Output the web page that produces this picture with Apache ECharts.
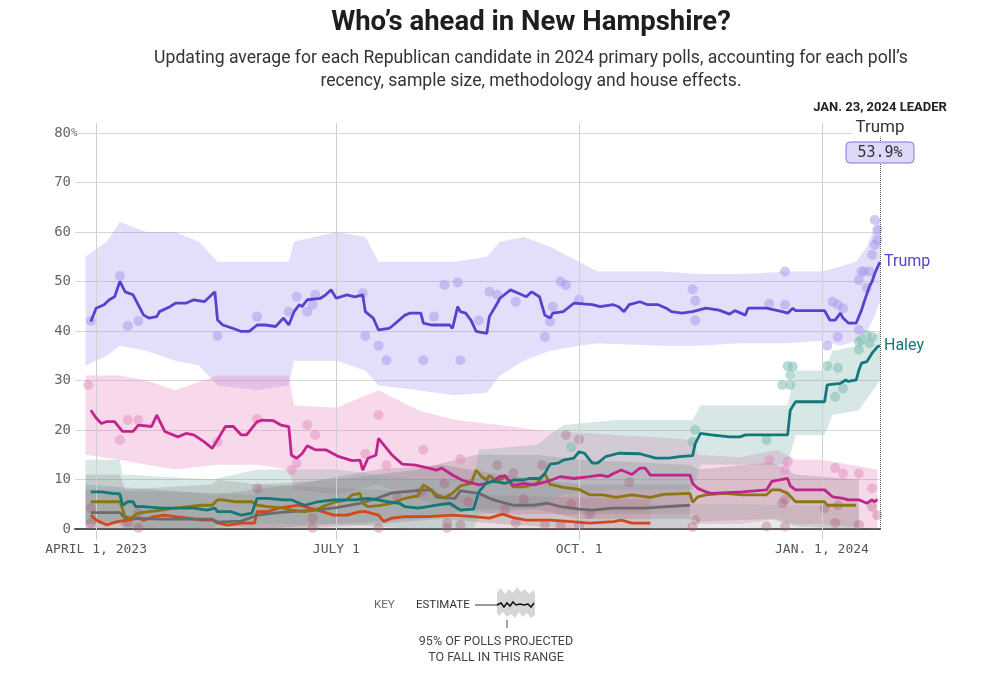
<!DOCTYPE html>
<html><head><meta charset="utf-8">
<script src="https://cdn.jsdelivr.net/npm/echarts@6/dist/echarts.min.js"></script>
<style>html,body{margin:0;padding:0;background:#fff}#c{width:992px;height:675px}</style>
</head><body><div id="c"></div>
<script>
// ---------- DATA ----------
const titleText = 'Who\u2019s ahead in New Hampshire?';
const subtitleLines = ['Updating average for each Republican candidate in 2024 primary polls, accounting for each poll\u2019s',
  'recency, sample size, methodology and house effects.'];
const leaderDate = '2024-01-23';
const leaderHeader = 'JAN. 23, 2024 LEADER';
const leaderName = 'Trump';
const leaderValue = 53.9;

const xTickDates = ['2023-04-01','2023-07-01','2023-10-01','2024-01-01'];
const xTickLabels = ['APRIL 1, 2023','JULY 1','OCT. 1','JAN. 1, 2024'];
const xMinDate = '2023-03-24';
const yTicks = [0,10,20,30,40,50,60,70,80];
const yTopTick = 80;

const trump = [['2023-03-30',41.9],['2023-04-01',44.6],['2023-04-04',45.3],['2023-04-06',46.3],['2023-04-08',46.9],['2023-04-10',50.0],['2023-04-12',47.9],['2023-04-15',47.3],['2023-04-19',43.2],['2023-04-21',42.6],['2023-04-24',42.9],['2023-04-25',43.9],['2023-04-29',44.9],['2023-05-01',45.6],['2023-05-05',45.6],['2023-05-08',46.3],['2023-05-12',45.9],['2023-05-16',47.9],['2023-05-17',42.2],['2023-05-19',41.2],['2023-05-23',40.5],['2023-05-26',39.9],['2023-05-29',39.9],['2023-06-01',41.2],['2023-06-04',41.2],['2023-06-08',40.9],['2023-06-11',42.6],['2023-06-13',41.2],['2023-06-15',43.9],['2023-06-17',45.3],['2023-06-18',44.9],['2023-06-20',46.3],['2023-06-25',46.6],['2023-06-27',47.3],['2023-06-29',48.3],['2023-07-01',46.6],['2023-07-05',47.3],['2023-07-08',46.9],['2023-07-11',47.3],['2023-07-12',43.9],['2023-07-15',42.6],['2023-07-17',40.2],['2023-07-21',40.5],['2023-07-22',40.9],['2023-07-27',43.2],['2023-07-29',43.6],['2023-08-02',43.6],['2023-08-03',41.6],['2023-08-06',41.2],['2023-08-13',41.2],['2023-08-14',40.5],['2023-08-16',44.9],['2023-08-17',43.9],['2023-08-19',43.6],['2023-08-21',42.2],['2023-08-23',39.9],['2023-08-27',39.5],['2023-08-28',42.9],['2023-08-31',45.6],['2023-09-01',46.6],['2023-09-05',48.3],['2023-09-08',47.6],['2023-09-11',46.9],['2023-09-13',47.9],['2023-09-16',46.9],['2023-09-18',43.2],['2023-09-20',42.6],['2023-09-21',43.6],['2023-09-25',43.9],['2023-09-29',45.6],['2023-10-06',45.3],['2023-10-09',44.9],['2023-10-14',45.3],['2023-10-16',44.9],['2023-10-18',43.9],['2023-10-20',45.3],['2023-10-24',45.9],['2023-10-27',45.3],['2023-10-31',45.3],['2023-11-03',44.6],['2023-11-05',43.9],['2023-11-09',43.6],['2023-11-13',43.9],['2023-11-18',44.6],['2023-11-23',44.2],['2023-11-27',43.4],['2023-11-29',44.1],['2023-12-03',43.2],['2023-12-04',44.6],['2023-12-11',44.6],['2023-12-17',43.9],['2023-12-19',43.6],['2023-12-21',44.6],['2023-12-22',44.1],['2024-01-02',44.1],['2024-01-04',42.2],['2024-01-06',42.2],['2024-01-08',43.6],['2024-01-09',42.6],['2024-01-11',41.6],['2024-01-14',41.6],['2024-01-16',44.2],['2024-01-17',45.9],['2024-01-19',49.0],['2024-01-20',50.0],['2024-01-21',51.6],['2024-01-22',52.8],['2024-01-23',53.9]];

const haley = [['2023-03-30',7.5],['2023-04-03',7.5],['2023-04-07',7.2],['2023-04-10',7.1],['2023-04-11',4.8],['2023-04-13',5.5],['2023-04-15',5.5],['2023-04-16',4.5],['2023-04-19',4.5],['2023-04-26',4.2],['2023-05-08',4.2],['2023-05-13',3.8],['2023-05-16',4.2],['2023-05-17',3.5],['2023-05-22',3.5],['2023-05-26',2.8],['2023-05-30',3.2],['2023-06-01',6.2],['2023-06-05',6.2],['2023-06-11',5.9],['2023-06-14',5.9],['2023-06-17',5.2],['2023-06-19',4.8],['2023-06-22',5.2],['2023-06-24',5.5],['2023-06-30',5.9],['2023-07-08',5.9],['2023-07-13',6.2],['2023-07-21',5.5],['2023-07-25',5.2],['2023-07-27',4.5],['2023-08-01',4.2],['2023-08-08',4.8],['2023-08-13',5.2],['2023-08-15',4.5],['2023-08-17',3.8],['2023-08-22',4.0],['2023-08-24',7.5],['2023-08-27',9.4],['2023-08-30',9.6],['2023-09-03',9.2],['2023-09-06',9.9],['2023-09-10',9.9],['2023-09-12',10.2],['2023-09-16',10.2],['2023-09-18',11.2],['2023-09-20',13.1],['2023-09-23',13.3],['2023-09-25',13.9],['2023-09-29',14.3],['2023-10-01',15.6],['2023-10-03',15.3],['2023-10-06',13.3],['2023-10-08',13.3],['2023-10-11',14.6],['2023-10-16',15.3],['2023-10-24',15.2],['2023-10-30',14.3],['2023-11-04',14.3],['2023-11-08',14.6],['2023-11-13',14.8],['2023-11-14',17.3],['2023-11-16',19.3],['2023-11-20',19.0],['2023-11-27',18.6],['2023-12-01',18.6],['2023-12-03',19.0],['2023-12-19',19.0],['2023-12-20',24.0],['2023-12-22',25.7],['2024-01-02',25.7],['2024-01-03',29.1],['2024-01-08',29.4],['2024-01-10',30.1],['2024-01-11',29.8],['2024-01-14',30.1],['2024-01-15',32.1],['2024-01-16',33.5],['2024-01-18',33.8],['2024-01-20',35.5],['2024-01-22',36.8],['2024-01-23',37.0]];

const desantis = [['2023-03-30',24.0],['2023-04-01',22.4],['2023-04-03',21.3],['2023-04-05',21.7],['2023-04-08',21.7],['2023-04-11',19.7],['2023-04-15',19.7],['2023-04-17',21.0],['2023-04-22',20.7],['2023-04-24',23.0],['2023-04-27',19.7],['2023-05-02',18.6],['2023-05-05',19.3],['2023-05-08',19.0],['2023-05-12',17.6],['2023-05-15',16.3],['2023-05-17',18.0],['2023-05-20',20.7],['2023-05-23',20.7],['2023-05-26',19.0],['2023-05-28',19.0],['2023-06-01',21.7],['2023-06-03',22.0],['2023-06-07',21.9],['2023-06-10',21.0],['2023-06-13',20.7],['2023-06-14',14.9],['2023-06-16',14.3],['2023-06-18',15.2],['2023-06-20',16.8],['2023-06-23',16.0],['2023-06-27',16.0],['2023-07-02',14.6],['2023-07-07',13.8],['2023-07-10',13.9],['2023-07-11',11.9],['2023-07-13',14.3],['2023-07-16',14.9],['2023-07-17',18.3],['2023-07-19',17.0],['2023-07-22',15.0],['2023-07-26',13.1],['2023-07-31',12.9],['2023-08-05',12.3],['2023-08-08',11.9],['2023-08-10',12.3],['2023-08-14',10.9],['2023-08-18',9.8],['2023-08-22',9.2],['2023-08-24',8.9],['2023-08-27',9.2],['2023-08-30',9.9],['2023-09-01',10.6],['2023-09-03',10.8],['2023-09-06',8.8],['2023-09-10',9.2],['2023-09-14',8.9],['2023-09-19',9.6],['2023-09-24',10.6],['2023-09-29',10.2],['2023-10-05',10.6],['2023-10-09',10.9],['2023-10-12',10.6],['2023-10-14',11.2],['2023-10-17',11.9],['2023-10-21',11.0],['2023-10-24',12.3],['2023-10-26',12.3],['2023-10-28',10.9],['2023-11-03',10.9],['2023-11-12',10.9],['2023-11-13',9.2],['2023-11-15',8.2],['2023-11-18',7.5],['2023-11-20',7.2],['2023-12-02',7.5],['2023-12-11',7.9],['2023-12-13',9.6],['2023-12-16',9.9],['2023-12-19',10.2],['2023-12-20',8.7],['2023-12-22',7.9],['2024-01-02',7.9],['2024-01-05',6.5],['2024-01-09',6.2],['2024-01-11',5.9],['2024-01-15',5.9],['2024-01-18',5.2],['2024-01-20',5.9],['2024-01-21',5.5],['2024-01-22',6.0]];

const ramaswamy = [['2023-03-30',5.5],['2023-04-05',5.5],['2023-04-10',5.5],['2023-04-12',2.5],['2023-04-14',2.2],['2023-04-17',3.2],['2023-04-21',3.5],['2023-04-26',3.8],['2023-05-01',4.2],['2023-05-06',4.5],['2023-05-11',4.8],['2023-05-15',4.8],['2023-05-17',5.9],['2023-05-19',5.9],['2023-05-24',5.5],['2023-05-30',5.5],['2023-06-01',4.8],['2023-06-05',4.5],['2023-06-11',4.2],['2023-06-14',3.8],['2023-06-19',3.5],['2023-06-23',3.8],['2023-06-27',4.8],['2023-07-01',5.5],['2023-07-05',5.9],['2023-07-07',6.9],['2023-07-10',7.2],['2023-07-11',5.2],['2023-07-13',4.5],['2023-07-17',4.7],['2023-07-22',5.2],['2023-07-27',6.2],['2023-08-01',6.7],['2023-08-03',8.9],['2023-08-06',7.9],['2023-08-08',6.9],['2023-08-11',6.3],['2023-08-14',7.2],['2023-08-17',8.7],['2023-08-21',9.2],['2023-08-23',11.9],['2023-08-25',10.6],['2023-08-27',9.9],['2023-08-28',10.8],['2023-08-31',9.6],['2023-09-03',10.6],['2023-09-06',8.5],['2023-09-10',8.5],['2023-09-15',9.2],['2023-09-18',11.2],['2023-09-20',9.0],['2023-09-25',8.4],['2023-10-01',8.0],['2023-10-05',6.9],['2023-10-10',6.9],['2023-10-15',6.4],['2023-10-21',6.9],['2023-10-28',6.4],['2023-11-02',7.0],['2023-11-12',7.2],['2023-11-13',5.4],['2023-11-15',6.5],['2023-11-18',6.9],['2023-11-25',7.2],['2023-12-02',6.9],['2023-12-11',6.9],['2023-12-13',7.9],['2023-12-16',7.9],['2023-12-19',7.2],['2023-12-22',5.5],['2024-01-02',5.5],['2024-01-03',4.8],['2024-01-14',4.8]];

const scott = [['2023-03-30',3.3],['2023-04-10',3.3],['2023-04-12',2.2],['2023-04-26',2.0],['2023-05-15',2.0],['2023-05-17',1.4],['2023-05-26',1.6],['2023-06-01',2.8],['2023-06-11',3.4],['2023-06-23',3.8],['2023-07-01',4.3],['2023-07-10',5.2],['2023-07-17',6.3],['2023-07-22',7.3],['2023-08-01',7.8],['2023-08-06',7.9],['2023-08-08',6.4],['2023-08-15',6.2],['2023-08-17',7.7],['2023-08-24',7.2],['2023-08-28',6.2],['2023-09-01',5.5],['2023-09-06',4.8],['2023-09-14',4.8],['2023-09-19',5.2],['2023-09-24',4.5],['2023-10-01',4.0],['2023-10-06',3.8],['2023-10-14',4.2],['2023-10-26',4.2],['2023-11-03',4.5],['2023-11-12',4.8]];

const pence = [['2023-03-30',2.8],['2023-04-01',1.8],['2023-04-05',0.8],['2023-04-09',1.5],['2023-04-13',1.8],['2023-04-17',2.2],['2023-04-19',1.8],['2023-04-23',2.5],['2023-04-27',2.8],['2023-05-01',2.5],['2023-05-06',2.2],['2023-05-11',1.8],['2023-05-15',1.8],['2023-05-17',1.2],['2023-05-21',0.8],['2023-05-26',1.2],['2023-05-31',1.2],['2023-06-01',3.5],['2023-06-05',3.5],['2023-06-09',4.2],['2023-06-13',4.5],['2023-06-17',4.8],['2023-06-21',4.2],['2023-06-24',3.8],['2023-06-30',2.8],['2023-07-05',2.8],['2023-07-10',3.5],['2023-07-12',3.5],['2023-07-17',2.8],['2023-07-19',1.5],['2023-07-22',2.2],['2023-07-27',2.5],['2023-08-05',2.5],['2023-08-14',2.8],['2023-08-22',2.5],['2023-08-28',2.2],['2023-09-02',3.0],['2023-09-06',2.3],['2023-09-11',1.8],['2023-09-20',1.8],['2023-09-28',1.5],['2023-10-05',1.2],['2023-10-14',1.5],['2023-10-17',1.8],['2023-10-21',1.2],['2023-10-28',1.2]];

// 95% ranges: [date, low, high]
const trumpBand = [['2023-03-28',33,55],['2023-04-05',35,58],['2023-04-10',37,62],['2023-04-20',36,60],['2023-05-01',34,60],['2023-05-10',33,58],['2023-05-17',29,54],['2023-06-01',28,54],['2023-06-13',29,54],['2023-06-15',34,58],['2023-07-01',34,60],['2023-07-12',32,59],['2023-07-17',29,54],['2023-08-01',28,54],['2023-08-15',27,54],['2023-08-27',27.5,55],['2023-09-01',31,58],['2023-09-10',34,59],['2023-09-20',36,57],['2023-10-01',37,54],['2023-10-08',37.5,52],['2023-11-01',37,52],['2023-11-15',37,51.5],['2023-12-01',37.5,51.5],['2023-12-20',37.5,52],['2024-01-01',38,52],['2024-01-08',37,53],['2024-01-14',38,54],['2024-01-18',40,57],['2024-01-21',43,61],['2024-01-23',46,63]];
const desantisBand = [['2023-03-28',15,31],['2023-04-10',14,31],['2023-04-20',13,30],['2023-05-01',12,28],['2023-05-17',13,31],['2023-06-01',13,31],['2023-06-13',12,31],['2023-06-15',8,25],['2023-07-01',7,24.5],['2023-07-17',9,28],['2023-08-01',6,24],['2023-08-15',4,22],['2023-09-01',3,21],['2023-09-15',3,20],['2023-10-01',3,19.5],['2023-10-15',3,19],['2023-11-01',3,18.5],['2023-11-13',3,18],['2023-11-15',1,15],['2023-12-01',1,14.5],['2023-12-15',2,16],['2023-12-22',1,14],['2024-01-01',1,14],['2024-01-22',0,12]];
const haleyBand = [['2023-03-28',1.5,14],['2023-04-10',1.5,14],['2023-04-11',0.5,11],['2023-05-15',0,10],['2023-06-01',1,12],['2023-07-01',1,12],['2023-08-01',0,10],['2023-08-22',0,10],['2023-08-24',3,16],['2023-09-15',4,17],['2023-09-25',7,21],['2023-10-15',8,22],['2023-11-13',8,22],['2023-11-16',13,25],['2023-12-19',13,25],['2023-12-22',19,32],['2024-01-02',19,32],['2024-01-05',23,36],['2024-01-15',24,37],['2024-01-23',30,40]];
const ramaswamyBand = [['2023-03-28',1,11],['2023-04-10',1,11],['2023-04-12',0,8],['2023-05-15',0,9],['2023-05-17',1,10],['2023-06-01',0,9],['2023-07-01',1,10],['2023-08-01',2,12],['2023-08-23',4,15],['2023-09-15',4,15],['2023-10-01',2,14],['2023-11-12',2,13],['2023-11-15',1.5,12],['2023-12-13',2,13.5],['2023-12-22',0.5,11],['2024-01-15',0,10]];
const scottBand = [['2023-03-28',0,9],['2023-05-17',0,7],['2023-06-15',0,9],['2023-07-17',1,12],['2023-08-10',2,13],['2023-09-01',1,11],['2023-10-01',0,9],['2023-11-12',0,9]];
const penceBand = [['2023-03-28',0,8],['2023-05-31',0,7],['2023-06-01',0,9],['2023-07-15',0,8],['2023-08-15',0,7],['2023-10-28',0,6]];
const otherBand = [['2023-10-28',0,5],['2023-12-01',0,5],['2024-01-15',0,4.5]];

// individual polls
const trumpPolls = [['2023-03-30',42],['2023-04-10',51.1],['2023-04-13',41.0],['2023-04-17',42.0],['2023-05-17',39.0],['2023-06-01',42.9],['2023-06-13',43.9],['2023-06-16',46.9],['2023-06-20',43.9],['2023-06-22',45.3],['2023-06-23',47.3],['2023-07-11',47.6],['2023-07-12',39.0],['2023-07-17',37.0],['2023-07-20',34.1],['2023-08-03',34.1],['2023-08-07',42.9],['2023-08-11',49.3],['2023-08-16',49.8],['2023-08-17',34.1],['2023-08-24',42.1],['2023-08-28',47.9],['2023-08-31',47.3],['2023-09-07',45.9],['2023-09-18',38.8],['2023-09-20',41.9],['2023-09-21',44.9],['2023-09-24',50.0],['2023-09-26',49.3],['2023-10-01',46.3],['2023-11-13',48.4],['2023-11-14',46.1],['2023-11-14',42.1],['2023-12-12',45.5],['2023-12-18',52.0],['2023-12-18',45.3],['2024-01-03',37.0],['2024-01-05',45.9],['2024-01-07',45.3],['2024-01-07',38.8],['2024-01-09',44.6],['2024-01-15',40.2],['2024-01-15',50.3],['2024-01-16',52.0],['2024-01-17',52.0],['2024-01-18',48.7],['2024-01-19',52.0],['2024-01-20',55.4],['2024-01-21',57.4],['2024-01-22',58.4],['2024-01-22',60.4],['2024-01-21',62.4]];
const haleyPolls = [['2023-12-17',29.1],['2023-12-20',31.1],['2023-12-21',32.8],['2023-12-19',32.9],['2023-12-20',29.1],['2024-01-03',32.9],['2024-01-07',32.5],['2024-01-06',26.7],['2024-01-09',28.4],['2024-01-15',37.8],['2024-01-16',38.2],['2024-01-18',39.2],['2024-01-20',38.8],['2024-01-19',37.5],['2024-01-15',36.2],['2023-11-14',20.0],['2023-11-13',17.6],['2023-12-11',18.0],['2023-09-28',16.5]];
const desantisPolls = [['2023-03-29',29.1],['2023-04-13',22.0],['2023-04-17',22.0],['2023-04-10',18.0],['2023-05-17',17.6],['2023-06-01',22.2],['2023-06-20',21.0],['2023-06-23',19.0],['2023-06-14',11.9],['2023-06-16',13.3],['2023-07-12',15.2],['2023-07-17',23.0],['2023-07-20',12.9],['2023-08-03',16.0],['2023-08-17',14.1],['2023-12-12',13.9],['2023-12-19',13.6],['2023-12-18',11.9],['2024-01-06',12.3],['2024-01-09',11.2],['2024-01-15',11.2],['2024-01-20',8.2]];
const otherPolls = [['2023-03-30',4.2],['2023-03-30',1.2],['2023-04-13',1.4],['2023-04-17',3.2],['2023-04-17',0.2],['2023-06-01',8.2],['2023-06-22',2.2],['2023-06-22',0.2],['2023-07-17',0.2],['2023-07-24',6.5],['2023-08-02',7.5],['2023-08-11',9.2],['2023-08-12',1.2],['2023-08-17',0.8],['2023-08-12',0.2],['2023-08-20',5.5],['2023-08-31',12.9],['2023-09-03',4.0],['2023-09-06',11.3],['2023-09-07',1.2],['2023-09-10',6.0],['2023-09-17',12.9],['2023-09-18',0.8],['2023-09-24',0.8],['2023-09-26',19.0],['2023-09-28',5.0],['2023-10-01',0.8],['2023-10-01',18.1],['2023-10-05',3.0],['2023-10-20',9.5],['2023-11-13',0.4],['2023-11-14',1.8],['2023-12-11',0.5],['2023-12-17',5.2],['2023-12-18',5.9],['2023-12-18',0.5],['2024-01-02',4.2],['2024-01-06',1.2],['2024-01-07',4.8],['2024-01-15',0.8],['2024-01-20',4.5],['2024-01-22',2.8]];

// ---------- CHART ----------
const T = s => { const [y,m,d] = s.split('-').map(Number); return new Date(y, m-1, d).getTime(); };
const tickTs = xTickDates.map(T);
const C = {trump:'#5a40cf', desantis:'#c0258c', haley:'#13787a', rama:'#8b7612', scott:'#6c6a6c', pence:'#d2481c'};
const SANS = 'Roboto, "Noto Sans", sans-serif';
const MONO = '"DejaVu Sans Mono", monospace';

function band(name, arr, color) {
  return { type:'custom', name, silent:true, z:1, clip:true,
    data:[[T(arr[0][0]), arr[0][1]]], encode:{x:0, y:1},
    renderItem:(params, api) => {
      const pts = [];
      for (let i=0;i<arr.length;i++) pts.push(api.coord([T(arr[i][0]), arr[i][2]]));
      for (let i=arr.length-1;i>=0;i--) pts.push(api.coord([T(arr[i][0]), arr[i][1]]));
      return {type:'polygon', shape:{points:pts}, style:{fill:color}};
    }};
}
function line(name, arr, color, z, endLabel) {
  const s = { type:'line', name, data: arr.map(p=>[T(p[0]), p[1]]), symbol:'none', z,
    lineStyle:{color, width:2.8}, itemStyle:{color}, emphasis:{disabled:true}, silent:true };
  if (endLabel) s.endLabel = {show:true, formatter:'{a}', color, fontSize:16, fontFamily:SANS, distance:4};
  return s;
}
function dots(name, arr, color, op) {
  return { type:'scatter', name, data: arr.map(p=>[T(p[0]), p[1]]), symbolSize:10, z:2, clip:false, silent:true,
    itemStyle:{color, opacity:op}};
}
const ctr = {align:'center', verticalAlign:'middle', textAlign:'center', textVerticalAlign:'middle'};

const chart = echarts.init(document.getElementById('c'), null, {renderer:'canvas'});
chart.setOption({
  animation:false,
  backgroundColor:'#fff',
  grid:{left:75, right:112, top:123, bottom:146, containLabel:false, outerBoundsMode:'none'},
  xAxis:{ type:'value', min:T(xMinDate), max:T(leaderDate), scale:true,
    axisLine:{show:true, onZero:true, lineStyle:{color:'#555', width:2}},
    axisTick:{show:true, customValues:tickTs, length:11, lineStyle:{color:'#cfcfcf'}},
    axisLabel:{customValues:tickTs, formatter:v => { const i = tickTs.indexOf(v); return i>=0 ? xTickLabels[i] : ''; },
      fontFamily:MONO, fontSize:13, color:'#555', margin:14},
    splitLine:{show:false}},
  yAxis:{ type:'value', min:0, max:82, interval:10,
    axisLine:{show:false}, axisTick:{show:false},
    axisLabel:{ formatter: v => (yTicks.indexOf(v)>=0 ? String(v) : ''),
      fontFamily:MONO, fontSize:14, color:'#666', margin:4},
    splitLine:{show:true, showMaxLine:false, lineStyle:{color:'#d6d6d6', width:1}}},
  graphic:[
    {type:'text', x:531, y:23, style:Object.assign({text:titleText, font:'bold 27.5px '+SANS, fill:'#1e1e1e'}, ctr)},
    {type:'text', x:531, y:59, style:Object.assign({text:subtitleLines[0], font:'17.6px '+SANS, fill:'#333'}, ctr)},
    {type:'text', x:531, y:82, style:Object.assign({text:subtitleLines[1], font:'17.6px '+SANS, fill:'#333'}, ctr)},
    {type:'text', x:880, y:108, z:20, style:Object.assign({text:leaderHeader, font:'bold 13px '+SANS, fill:'#222'}, ctr)},
    {type:'text', x:880, y:128, z:20, style:Object.assign({text:leaderName, font:'17px '+SANS, fill:'#333', backgroundColor:'#fff', padding:[0,3]}, ctr)},
    {type:'rect', z:20, shape:{x:846, y:142, width:68, height:21, r:4}, style:{fill:'#dcd8f8', stroke:'#8677dd', lineWidth:1}},
    {type:'text', x:880, y:153, z:21, style:Object.assign({text:leaderValue.toFixed(1)+'%', font:'15px '+MONO, fill:'#333'}, ctr)},
    {type:'text', x:374, y:605, style:{text:'KEY', font:'11.5px '+SANS, fill:'#666', verticalAlign:'middle', textVerticalAlign:'middle'}},
    {type:'text', x:416, y:605, style:{text:'ESTIMATE', font:'11.5px '+SANS, fill:'#333', verticalAlign:'middle', textVerticalAlign:'middle'}},
    {type:'line', shape:{x1:475, y1:605, x2:497, y2:605}, style:{stroke:'#333', lineWidth:1}},
    {type:'polygon', shape:{points:[[497,592],[501,588],[505,594],[509,589],[513,593],[517,587],[521,592],[525,589],[529,594],[533,590],[535,593],[535,615],[531,618],[527,613],[523,617],[519,612],[515,618],[511,614],[507,617],[503,612],[499,616],[497,613]]}, style:{fill:'#d6d6d6'}},
    {type:'polyline', shape:{points:[[497,605],[501,603],[504,607],[507,603],[510,606],[513,602],[516,605],[520,604],[524,605],[528,604],[531,607],[534,603]]}, style:{stroke:'#111', lineWidth:1.5, fill:null}},
    {type:'line', shape:{x1:507, y1:620, x2:507, y2:628}, style:{stroke:'#444', lineWidth:1}},
    {type:'text', x:496, y:642, style:Object.assign({text:'95% OF POLLS PROJECTED', font:'12.5px '+SANS, fill:'#444'}, ctr)},
    {type:'text', x:496, y:658, style:Object.assign({text:'TO FALL IN THIS RANGE', font:'12.5px '+SANS, fill:'#444'}, ctr)}
  ],
  series:[
    { type:'line', name:'grid', data:[], silent:true, z:0,
      markLine:{silent:true, symbol:'none', label:{show:false}, animation:false,
        lineStyle:{color:'#d0d0d0', width:1, type:'solid'},
        data: tickTs.map(t=>({xAxis:t}))}},
    band('Trump range', trumpBand, 'rgba(150,135,238,0.27)'),
    band('DeSantis range', desantisBand, 'rgba(232,130,190,0.3)'),
    band('Ramaswamy range', ramaswamyBand, 'rgba(120,105,100,0.23)'),
    band('Scott range', scottBand, 'rgba(110,100,112,0.23)'),
    band('Pence range', penceBand, 'rgba(160,95,110,0.2)'),
    band('Other range', otherBand, 'rgba(150,150,150,0.22)'),
    band('Haley range', haleyBand, 'rgba(110,170,160,0.28)'),
    dots('Other polls', otherPolls, '#a8586f', 0.33),
    dots('DeSantis polls', desantisPolls, '#e08dbd', 0.5),
    dots('Haley polls', haleyPolls, '#7fbdb2', 0.55),
    dots('Trump polls', trumpPolls, '#a99ceb', 0.55),
    line('Pence', pence, C.pence, 5),
    line('Scott', scott, C.scott, 5),
    line('Ramaswamy', ramaswamy, C.rama, 6),
    line('DeSantis', desantis, C.desantis, 7),
    line('Haley', haley, C.haley, 8, true),
    Object.assign(line('Trump', trump, C.trump, 9, true), {
      markLine:{silent:true, symbol:'none', label:{show:false}, animation:false,
        lineStyle:{color:'#555', width:1, type:'dotted'}, data:[{xAxis:T(leaderDate)}]}})
  ]
});
// percent sign hanging after the top y tick label
const yTop = chart.convertToPixel({yAxisIndex:0}, yTopTick);
const xLeft = chart.convertToPixel({xAxisIndex:0}, T(xMinDate));
chart.setOption({graphic:[{type:'text', id:'pct', x:xLeft - 4, y:yTop, z:10,
  style:{text:'%', font:'11px '+MONO, fill:'#666', verticalAlign:'middle', textVerticalAlign:'middle', backgroundColor:'#fff'}}]});
</script>
</body></html>
